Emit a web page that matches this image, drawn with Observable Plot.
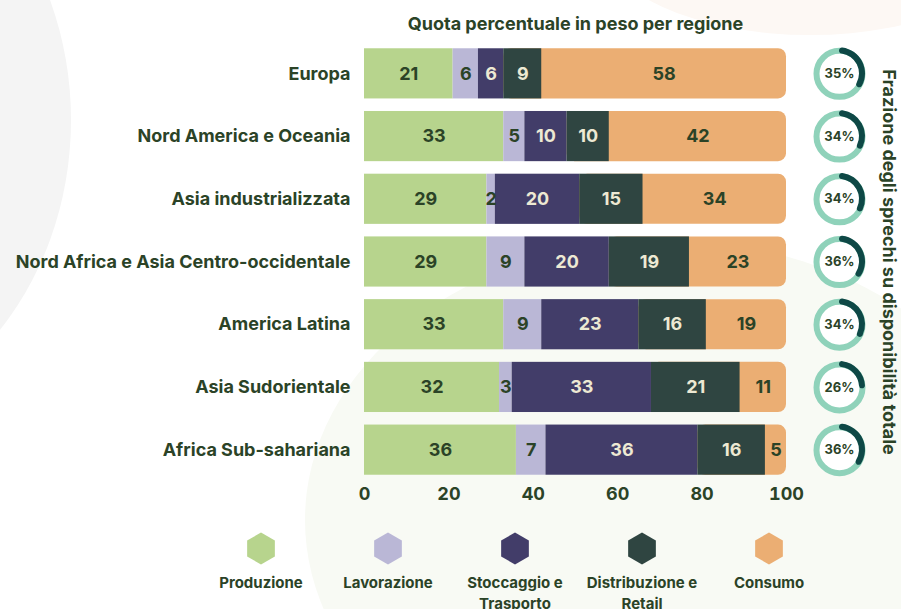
<!DOCTYPE html>
<html>
<head>
<meta charset="utf-8">
<script src="https://cdn.jsdelivr.net/npm/d3@7"></script>
<script src="https://cdn.jsdelivr.net/npm/@observablehq/plot@0.6"></script>
<style>
  html, body { margin: 0; padding: 0; background: #ffffff; }
  body { width: 901px; height: 609px; position: relative; overflow: hidden; font-family: Inter, "Noto Sans", sans-serif; }
  .deco { position: absolute; border-radius: 50%; z-index: 0; }
  #chart { position: relative; z-index: 1; }
  #chart svg { display: block; background: transparent; }
</style>
</head>
<body>
<div class="deco" style="left:-471px; top:-191px; width:542px; height:622px; background:#f4f4f4;"></div>
<div class="deco" style="left:305px; top:240px; width:720px; height:560px; background:#f8faf4;"></div>
<div class="deco" style="left:600px; top:-160px; width:420px; height:195px; background:#fdf8f4;"></div>
<div id="chart"></div>
<script>
const regions = [
  "Europa",
  "Nord America e Oceania",
  "Asia industrializzata",
  "Nord Africa e Asia Centro-occidentale",
  "America Latina",
  "Asia Sudorientale",
  "Africa Sub-sahariana"
];
const stages = ["Produzione", "Lavorazione", "Stoccaggio e Trasporto", "Distribuzione e Retail", "Consumo"];
const legendLabels = ["Produzione", "Lavorazione", "Stoccaggio e\nTrasporto", "Distribuzione e\nRetail", "Consumo"];
const produzione    = [21, 33, 29, 29, 33, 32, 36];
const lavorazione   = [6, 5, 2, 9, 9, 3, 7];
const stoccaggio    = [6, 10, 20, 20, 23, 33, 36];
const distribuzione = [9, 10, 15, 19, 16, 21, 16];
const consumo       = [58, 42, 34, 23, 19, 11, 5];
const frazione      = [35, 34, 34, 36, 34, 26, 36];
const xTicks = [0, 20, 40, 60, 80, 100];
const title = "Quota percentuale in peso per regione";
const sideTitle = "Frazione degli sprechi su disponibilità totale";

const stageColors = ["#b7d48d", "#bab7d6", "#423d69", "#2f4541", "#ebae73"];
const stageText = ["#2b4327", "#2b4327", "#ede9d3", "#ede9d3", "#2b4327"];
const textDark = "#2b4327";
const ringLight = "#8fd2ba";
const ringDark = "#0e4846";

const series = [produzione, lavorazione, stoccaggio, distribuzione, consumo];
const rows = [];
regions.forEach((region, i) => {
  let acc = 0, prevStart = 0;
  series.forEach((vals, s) => {
    const v = vals[i];
    rows.push({region, stage: stages[s], s, value: v, x1: acc, x2: acc + v, back: prevStart});
    prevStart = acc;
    acc += v;
  });
});
const lastRows = rows.filter(d => d.s === stages.length - 1);
const otherRows = rows.filter(d => d.s !== stages.length - 1);
const donuts = regions.map((region, i) => ({region, pct: frazione[i]}));

const fontFamily = "Inter, 'Noto Sans', sans-serif";

const donutArcs = (index, scales, values, dimensions, context) => {
  const g = d3.create("svg:g");
  const ys = scales.y;
  const bw = typeof ys.bandwidth === "function" ? ys.bandwidth() : (ys.bandwidth || 0);
  const cx = dimensions.width - dimensions.marginRight + 53;
  const arc = d3.arc().innerRadius(20).outerRadius(26).cornerRadius(3);
  donuts.forEach(d => {
    const cy = ys(d.region) + bw / 2;
    g.append("path")
      .attr("transform", `translate(${cx},${cy})`)
      .attr("fill", ringDark)
      .attr("d", arc({startAngle: 0, endAngle: 2 * Math.PI * d.pct / 100}));
  });
  return g.node();
};

const main = Plot.plot({
  width: 901,
  height: 510,
  marginTop: 42,
  marginBottom: 29,
  marginLeft: 364,
  marginRight: 115,
  style: {background: "transparent", fontFamily, color: textDark},
  x: {domain: [0, 100], ticks: xTicks, tickSize: 0, tickPadding: 6, label: null},
  y: {domain: regions, paddingInner: 0.2, paddingOuter: 0.1, round: false, tickSize: 0, tickPadding: 14, label: null},
  color: {domain: stages, range: stageColors},
  marks: [
    Plot.axisX({ticks: xTicks, tickSize: 0, tickPadding: 6, fontSize: 18, fontWeight: 700, fill: textDark, label: null}),
    Plot.axisY({tickSize: 0, tickPadding: 14, fontSize: 18, fontWeight: 700, fill: textDark, label: null}),
    Plot.barX(lastRows, {x1: "back", x2: "x2", y: "region", fill: "stage", rx: 8}),
    Plot.barX(otherRows, {x1: "x1", x2: "x2", y: "region", fill: "stage"}),
    Plot.text(rows, {
      x: d => (d.x1 + d.x2) / 2, y: "region", text: d => String(d.value),
      fill: d => stageText[d.s], fontSize: 18, fontWeight: 700
    }),
    Plot.text([title], {frameAnchor: "top", lineAnchor: "middle", dy: -18, text: d => d, fontSize: 18, fontWeight: 700, fill: textDark}),
    Plot.dot(donuts, {y: "region", frameAnchor: "right", dx: 53, r: 23, stroke: ringLight, strokeWidth: 6, fill: "white"}),
    donutArcs,
    Plot.text(donuts, {y: "region", frameAnchor: "right", textAnchor: "middle", dx: 53, text: d => d.pct + "%", fontSize: 13, fontWeight: 700, fill: textDark}),
    Plot.text([sideTitle], {frameAnchor: "right", textAnchor: "middle", lineAnchor: "middle", dx: 102, rotate: 90, text: d => d, fontSize: 18, fontWeight: 700, fill: textDark})
  ]
});

const hexagon = {
  draw(context, size) {
    const r = Math.sqrt(size / Math.PI);
    for (let k = 0; k < 6; k++) {
      const a = -Math.PI / 2 + k * Math.PI / 3;
      const px = r * Math.cos(a), py = r * Math.sin(a);
      if (k === 0) context.moveTo(px, py); else context.lineTo(px, py);
    }
    context.closePath();
  }
};

const legendData = stages.map((stage, i) => ({stage, label: legendLabels[i]}));
const legend = Plot.plot({
  width: 901,
  height: 99,
  marginTop: 0,
  marginBottom: 0,
  marginLeft: 196,
  marginRight: 68,
  style: {background: "transparent", fontFamily, color: textDark},
  x: {type: "band", domain: stages, padding: 0, axis: null},
  color: {domain: stages, range: stageColors},
  marks: [
    Plot.dot(legendData, {x: "stage", frameAnchor: "top", dy: 38, r: 16, symbol: hexagon, fill: "stage"}),
    Plot.text(legendData, {x: "stage", frameAnchor: "top", dy: 63, lineAnchor: "top", lineHeight: 1.4, text: "label", fontSize: 15, fontWeight: 700, fill: textDark})
  ]
});

const root = document.getElementById("chart");
root.appendChild(main);
root.appendChild(legend);
</script>
</body>
</html>
